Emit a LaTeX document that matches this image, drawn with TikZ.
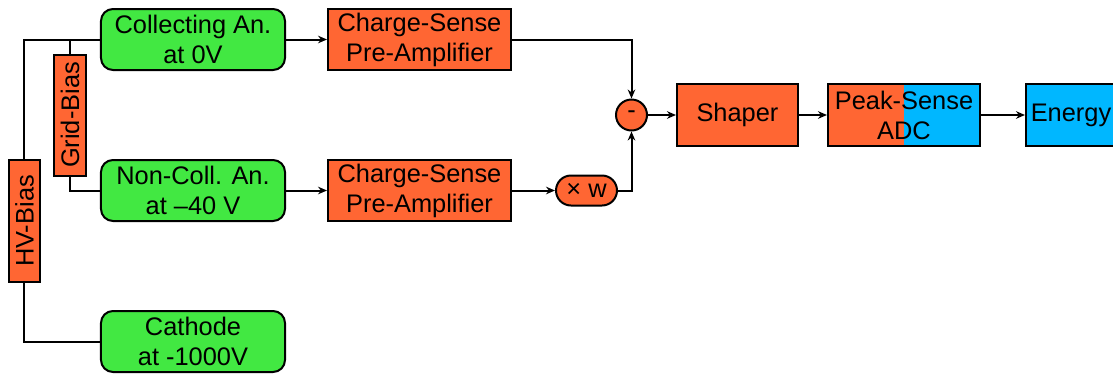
\documentclass[tikz,border=0pt]{standalone}
\usepackage{fontspec}
\setmainfont{Liberation Sans}
\usepackage{xcolor}
\usetikzlibrary{arrows.meta, positioning}

\definecolor{anodegreen}{RGB}{66,232,66}
\definecolor{ampred}{RGB}{255,102,51}
\definecolor{adcblue}{RGB}{0,183,255}

\begin{document}
\begin{tikzpicture}[
    node distance=44pt and 20.5pt,
    anode/.style={
        rectangle,
        rounded corners=6pt,
        draw=black,
        fill=anodegreen,
        align=center,
        line width=1pt,
        minimum width=92pt,
        minimum height=30.5pt,
        inner sep=1pt,
        font=\fontsize{12.7}{15}\selectfont
    },
    ampbox/.style={
        rectangle,
        draw=black,
        fill=ampred,
        align=center,
        line width=1pt,
        minimum width=91.5pt,
        minimum height=30.5pt,
        inner sep=1pt,
        font=\fontsize{12.7}{15}\selectfont
    },
    biasbox/.style={
        rectangle,
        draw=black,
        fill=ampred,
        rotate=90,
        line width=1pt,
        minimum width=61pt,
        minimum height=15.5pt,
        inner sep=1pt,
        font=\fontsize{12.7}{15}\selectfont
    },
    opcircle/.style={
        circle,
        draw=black,
        fill=ampred,
        line width=1pt,
        minimum size=15.5pt,
        inner sep=0pt,
        font=\fontsize{12.7}{15}\selectfont
    },
    wbox/.style={
        rectangle,
        rounded corners=7.5pt,
        draw=black,
        fill=ampred,
        line width=1pt,
        minimum width=30.5pt,
        minimum height=15pt,
        inner sep=0pt,
        font=\fontsize{12.7}{15}\selectfont
    },
    wire/.style={line width=1pt},
    arrow/.style={-{Stealth[length=4.5pt, width=3.8pt]}, line width=1pt}
]
\useasboundingbox (-96.5pt,19.75pt) rectangle (460pt,-168.25pt);

% detector electrodes
\node[anode] (coll) at (0,0) {Collecting An.\\at 0V};
\node[anode, below=of coll] (noncoll) {Non-Coll. An.\\at --40 V};
\node[anode, below=of noncoll] (cath) {Cathode\\at -1000V};

% bias supplies
\node[biasbox, anchor=south east] (hv) at ([xshift=-29.5pt]noncoll.north west) {HV-Bias};
\path (coll.west) -- (noncoll.west) coordinate[midway] (gmid);
\node[biasbox, minimum width=60.5pt, minimum height=16pt] (grid) at ([xshift=-15pt]gmid) {Grid-Bias};

% preamps
\node[ampbox, right=of coll] (csa1) {Charge-Sense\\Pre-Amplifier};
\node[ampbox, right=of noncoll] (csa2) {Charge-Sense\\Pre-Amplifier};
\node[wbox, right=21.5pt of csa2] (weight) {× w};

% difference and readout chain
\path (csa1.east) -- (csa2.east) coordinate[midway] (smid);
\node[opcircle, right=51.5pt of smid] (minus) {-};
\node[ampbox, right=14pt of minus, minimum width=60.5pt, minimum height=31pt] (shaper) {Shaper};
\node[ampbox, right=14pt of shaper, minimum width=76pt, minimum height=31pt,
    path picture={\fill[adcblue] (path picture bounding box.north) rectangle (path picture bounding box.south east);}] (adc) {Peak-Sense\\ADC};
\node[ampbox, fill=adcblue, right=22pt of adc, minimum width=45pt, minimum height=31pt] (energy) {Energy};

\draw[wire] (hv.east) |- (coll.west);
\draw[wire] (hv.west) |- (cath.west);
\draw[wire] (grid.east) -- (grid.east |- coll.west);
\draw[wire] (grid.west) |- (noncoll.west);

\draw[arrow] (coll) -- (csa1);
\draw[arrow] (noncoll) -- (csa2);
\draw[arrow] (csa2) -- (weight);
\draw[arrow] (csa1.east) -| (minus.north);
\draw[arrow] (weight.east) -| (minus.south);
\draw[arrow] (minus) -- (shaper);
\draw[arrow] (shaper) -- (adc);
\draw[arrow] (adc) -- (energy);

\end{tikzpicture}
\end{document}
